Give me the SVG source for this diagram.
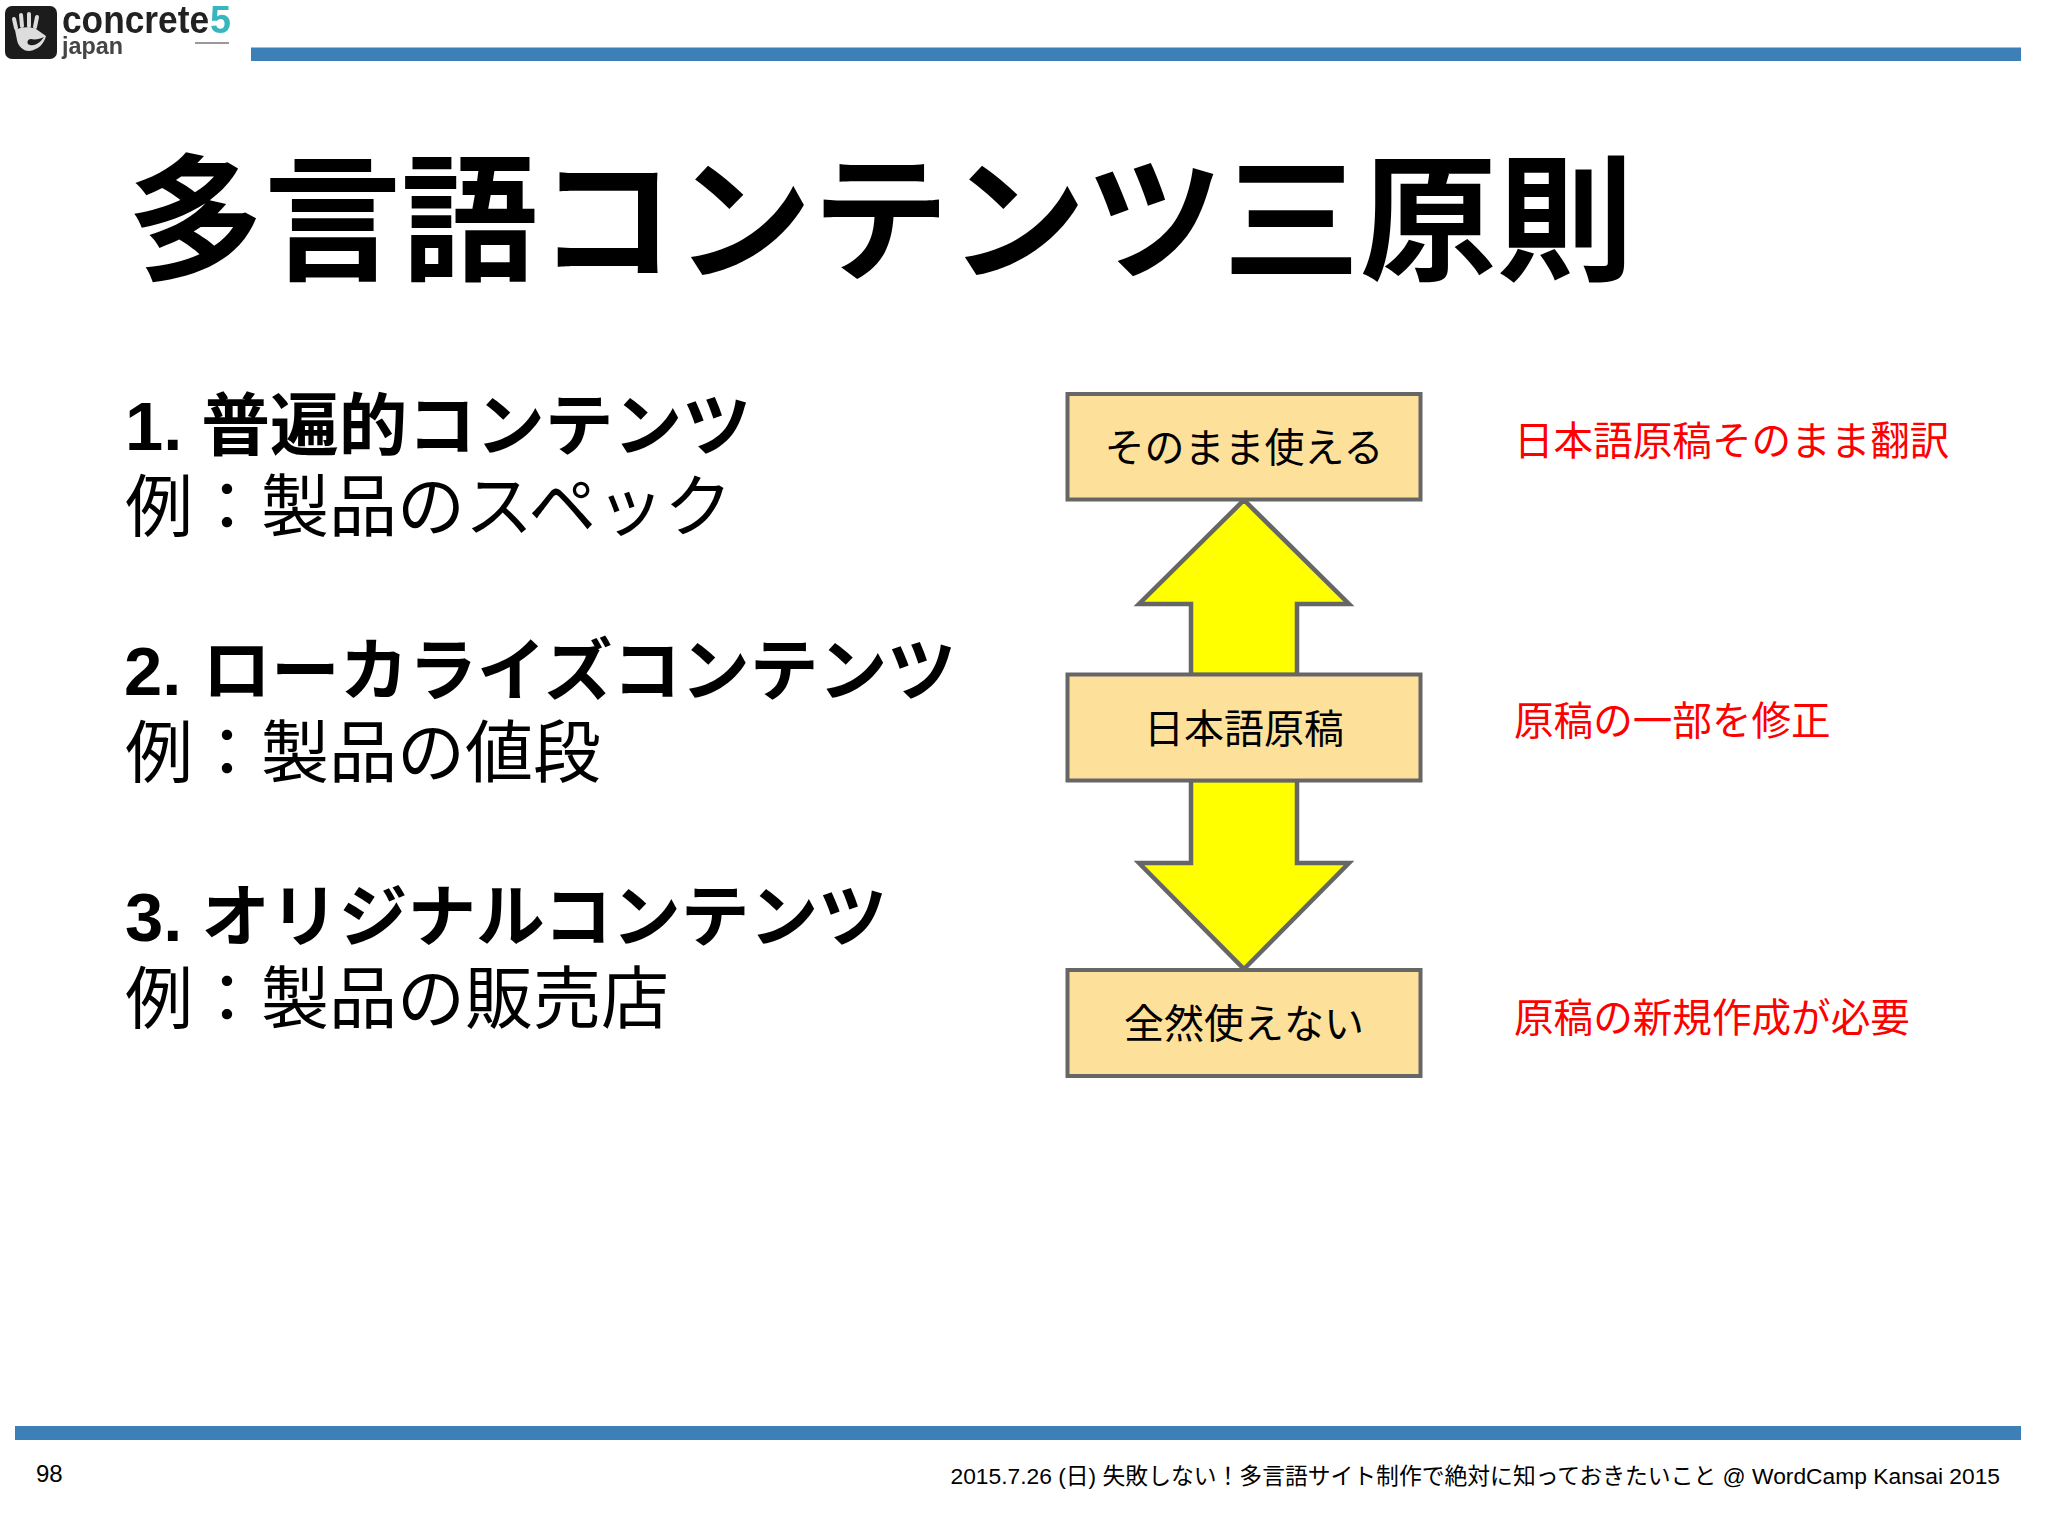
<svg xmlns="http://www.w3.org/2000/svg" width="2048" height="1536" viewBox="0 0 2048 1536">
<defs><filter id="soft" x="-5%" y="-5%" width="110%" height="110%"><feGaussianBlur stdDeviation="0.5"/></filter></defs>
<style>
text{font-family:"Liberation Sans","Noto Sans CJK JP",sans-serif;fill:#000}
.title{font-size:137px;font-weight:700}
.h{font-size:68.7px;font-weight:700}
.b{font-size:68px}
.box{fill:#fde19b;stroke:#666;stroke-width:4}
.arrow{fill:#ff0;stroke:#666;stroke-width:4.5;stroke-linejoin:miter;stroke-miterlimit:10}
.t{font-size:40px;text-anchor:middle}
.r{font-size:39.6px;fill:#f00}
.bar{fill:#3d80b8}
.f{font-size:24px}
.f2{font-size:22.8px}
</style>
<rect width="2048" height="1536" fill="#fff"/>
<g id="logo" filter="url(#soft)">
<rect x="5" y="6" width="52" height="53" rx="7" fill="#1c1c1c"/>
<path d="M16 28l-2-9M22 26l-1-11M29 26l0-12M35 27l2-10" stroke="#ddd" stroke-width="4" stroke-linecap="round" fill="none"/>
<path d="M15 30c5-3 15-4 21-1l10 7c-2 8-8 14-17 15c-6 0-11-5-12-11z" fill="#ddd"/>
<path d="M44 37c-4 2-9 3-13 2c-4 0-5 5-1 6c5 1 10-2 14-8z" fill="#1c1c1c"/>
<text x="62" y="33" font-size="38" font-weight="700" textLength="147" lengthAdjust="spacingAndGlyphs" style="fill:#222">concrete</text>
<text x="210" y="33" font-size="38" font-weight="700" textLength="21" lengthAdjust="spacingAndGlyphs" style="fill:#38b6c0">5</text>
<text x="62" y="54" font-size="24" font-weight="700" textLength="61" lengthAdjust="spacingAndGlyphs" style="fill:#444">japan</text>
<rect x="195" y="42" width="34" height="2" fill="#999"/>
</g>
<rect id="top-bar" class="bar" x="251" y="47.5" width="1770" height="13.5"/>
<rect id="bottom-bar" class="bar" x="15" y="1426" width="2006" height="14"/>
<text id="title" class="title" x="127" y="270">多言語コンテンツ三原則</text>
<g id="list">
<text class="h" x="125" y="450">1. 普遍的コンテンツ</text>
<text class="b" x="125" y="531">例：製品のスペック</text>
<text class="h" x="124" y="695" word-spacing="2">2. ローカライズコンテンツ</text>
<text class="b" x="125" y="777">例：製品の値段</text>
<text class="h" x="125" y="941">3. オリジナルコンテンツ</text>
<text class="b" x="125" y="1023">例：製品の販売店</text>
</g>
<g id="connectors">
<path id="arrow-up" class="arrow" d="M1244 500L1349 604H1297V675H1191V604H1139Z"/>
<path id="arrow-down" class="arrow" d="M1244 969L1349 863H1297V780H1191V863H1139Z"/>
</g>
<g id="node-top"><rect class="box" x="1067.5" y="394" width="353" height="105.5"/><text class="t" x="1244" y="462">そのまま使える</text></g>
<g id="node-mid"><rect class="box" x="1067.5" y="674.5" width="353" height="106"/><text class="t" x="1244" y="743">日本語原稿</text></g>
<g id="node-bottom"><rect class="box" x="1067.5" y="970" width="353" height="106"/><text class="t" x="1244" y="1038">全然使えない</text></g>
<g id="labels">
<text class="r" x="1514" y="455">日本語原稿そのまま翻訳</text>
<text class="r" x="1514" y="735">原稿の一部を修正</text>
<text class="r" x="1514" y="1032">原稿の新規作成が必要</text>
</g>
<g id="footer">
<text class="f" x="36" y="1482">98</text>
<text class="f2" x="2000" y="1484" text-anchor="end">2015.7.26 (日) 失敗しない！多言語サイト制作で絶対に知っておきたいこと @ WordCamp Kansai 2015</text>
</g>
</svg>
